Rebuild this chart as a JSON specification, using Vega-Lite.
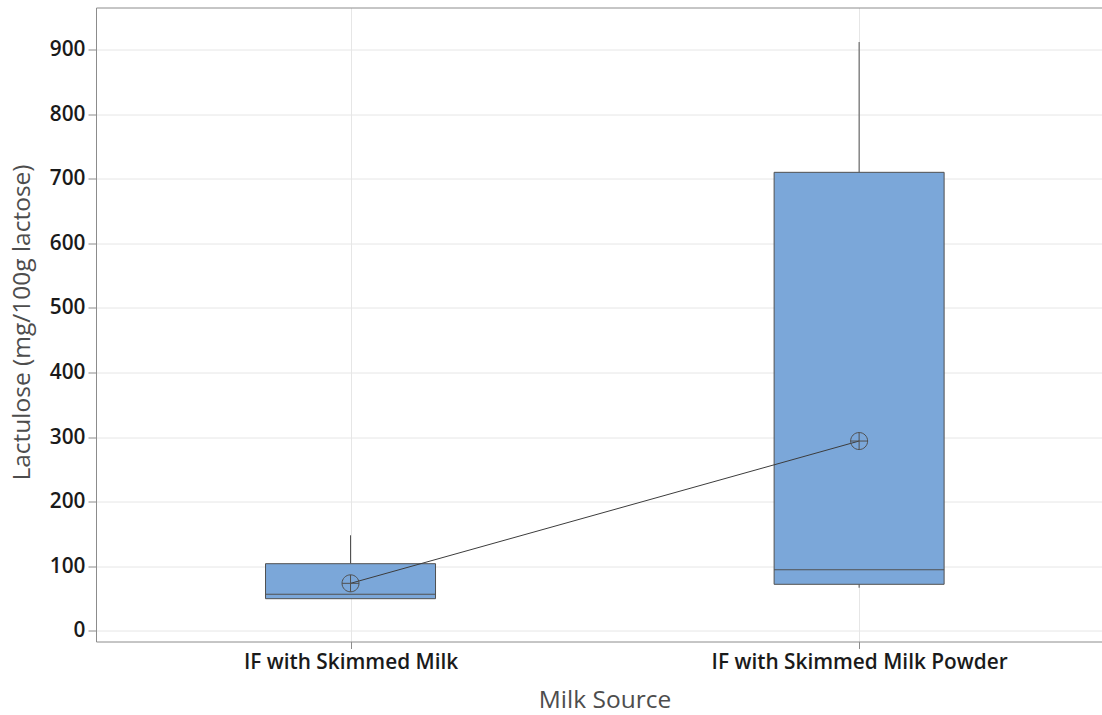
{
  "$schema": "https://vega.github.io/schema/vega-lite/v6.json",
  "autosize": "none",
  "width": 1006,
  "height": 634,
  "padding": {"left": 96, "top": 7.5, "right": 0, "bottom": 73.5},
  "background": "white",
  "config": {
    "view": {"stroke": null},
    "font": "Open Sans",
    "axis": {
      "domainColor": "#8c8c8c",
      "domainWidth": 1,
      "tickColor": "#8c8c8c",
      "gridColor": "#e6e6e6",
      "gridWidth": 1,
      "labelFont": "Open Sans",
      "labelFontWeight": 600,
      "labelFontSize": 20.8,
      "labelLimit": 0,
      "labelColor": "#1a1a1a",
      "titleFont": "Open Sans",
      "titleFontWeight": "normal",
      "titleFontSize": 24.5,
      "titleColor": "#4d4d4d"
    }
  },
  "data": {
    "values": [
      {"source": "IF with Skimmed Milk", "lower": 49.6, "q1": 49.6, "median": 56.4, "q3": 103.8, "upper": 147.8, "mean": 73.4},
      {"source": "IF with Skimmed Milk Powder", "lower": 66.6, "q1": 71.9, "median": 94.5, "q3": 710.0, "upper": 911.8, "mean": 293.8}
    ]
  },
  "layer": [
    {
      "mark": {"type": "rule", "color": "#505050", "strokeWidth": 1},
      "encoding": {
        "x": {
          "field": "source",
          "type": "nominal",
          "sort": null,
          "scale": {"type": "point", "padding": 0.489, "align": 0.5117},
          "axis": {
            "title": "Milk Source",
            "grid": true,
            "tickSize": 7,
            "labelPadding": 4,
            "labelAngle": 0,
            "titleX": 508.5,
            "titleY": 58.5,
            "titleBaseline": "middle",
            "titleAlign": "center"
          }
        },
        "y": {
          "field": "q3",
          "type": "quantitative",
          "scale": {"domain": [-16.7, 965.3], "nice": false, "zero": false},
          "axis": {
            "title": "Lactulose (mg/100g lactose)",
            "values": [0, 100, 200, 300, 400, 500, 600, 700, 800, 900],
            "grid": true,
            "tickSize": 8,
            "labelPadding": 3,
            "titleAngle": 270,
            "titleX": -74,
            "titleY": 314.5,
            "titleAlign": "center",
            "titleBaseline": "middle"
          }
        },
        "y2": {"field": "upper"}
      }
    },
    {
      "mark": {"type": "rule", "color": "#505050", "strokeWidth": 1},
      "encoding": {
        "x": {"field": "source", "type": "nominal", "sort": null, "axis": null},
        "y": {"field": "lower", "type": "quantitative"},
        "y2": {"field": "q1"}
      }
    },
    {
      "mark": {"type": "bar", "size": 170, "fill": "#7ba7d9", "stroke": "#505050", "strokeWidth": 1},
      "encoding": {
        "x": {"field": "source", "type": "nominal", "sort": null, "axis": null},
        "y": {"field": "q1", "type": "quantitative"},
        "y2": {"field": "q3"}
      }
    },
    {
      "mark": {"type": "tick", "size": 170, "thickness": 1, "color": "#505050", "opacity": 1},
      "encoding": {
        "x": {"field": "source", "type": "nominal", "sort": null, "axis": null},
        "y": {"field": "median", "type": "quantitative"}
      }
    },
    {
      "mark": {"type": "line", "color": "#3c3c3c", "strokeWidth": 1},
      "encoding": {
        "x": {"field": "source", "type": "nominal", "sort": null, "axis": null},
        "y": {"field": "mean", "type": "quantitative"}
      }
    },
    {
      "mark": {
        "type": "point",
        "shape": "M-1,0A1,1,0,1,0,1,0A1,1,0,1,0,-1,0M-1,0L1,0M0,-1L0,1",
        "size": 289,
        "filled": false,
        "stroke": "#505050",
        "strokeWidth": 1,
        "opacity": 1
      },
      "encoding": {
        "x": {"field": "source", "type": "nominal", "sort": null, "axis": null},
        "y": {"field": "mean", "type": "quantitative"}
      }
    },
    {
      "mark": {"type": "tick", "opacity": 0},
      "encoding": {
        "x": {
          "field": "source",
          "type": "nominal",
          "sort": null,
          "axis": {"orient": "top", "labels": false, "ticks": false, "grid": false, "title": null, "domain": true}
        }
      }
    }
  ],
  "resolve": {"axis": {"x": "independent"}}
}
